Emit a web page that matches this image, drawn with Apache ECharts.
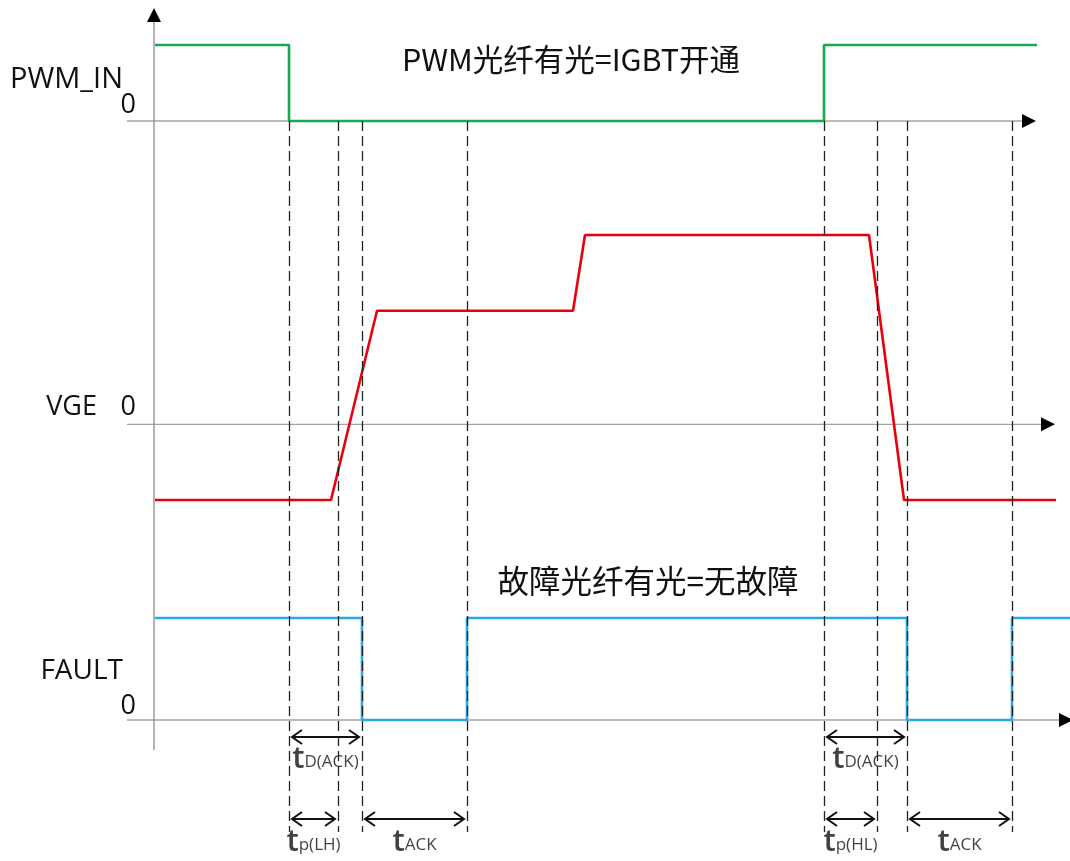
<!DOCTYPE html>
<html>
<head>
<meta charset="utf-8">
<title>PWM_IN / VGE / FAULT timing</title>
<script src="https://cdn.jsdelivr.net/npm/echarts@6/dist/echarts.min.js"></script>
<style>
  html, body { margin: 0; padding: 0; background: #fff; }
  #chart { width: 1070px; height: 861px; }
</style>
</head>
<body>
<div id="chart"></div>
<script>
// time runs from the vertical axis (t = 0), arbitrary units
const pwmTimes = [1, 135, 135, 670, 670, 883];
const pwmLevels = [1, 1, 0, 0, 1, 1];

const vgeTimes = [1, 177, 223, 419, 431, 715, 750, 902];
const vgeLevels = [-6, -6, 9, 9, 15, 15, -6, -6];

const faultTimes = [1, 208, 208, 313, 313, 753, 753, 858, 858, 916];
const faultLevels = [1, 1, 0, 0, 1, 1, 0, 0, 1, 1];

// dashed event markers
const markerTimes = [135, 184, 208, 313, 670, 723, 753, 858];

// timing spans
const spanStart = [135, 135, 208, 670, 670, 753];
const spanEnd = [208, 184, 313, 753, 723, 858];
const spanRow = [0, 1, 1, 0, 1, 1];
const spanSub = ['D(ACK)', 'p(LH)', 'ACK', 'D(ACK)', 'p(HL)', 'ACK'];

const signalNames = ['PWM_IN', 'VGE', 'FAULT'];
const signalColors = ['#17a94f', '#e8000d', '#27aae1'];

// layout of the overlay grid (pixel rows)
const xMin = -27;
const xMax = 916;
const axisEnds = [875, 894, 912];
const markerTop = 121;
const markerBottom = 832;
const arrowRows = [737, 819];
const labelRows = [760, 843];
const yAxisBottom = 750;
const yAxisArrow = 15;

const chart = echarts.init(document.getElementById('chart'));

function zip(xs, ys) {
  return xs.map((x, i) => [x, ys[i]]);
}

function baseline(index) {
  return {
    type: 'line',
    xAxisIndex: index,
    yAxisIndex: index,
    silent: true,
    clip: false,
    showSymbol: true,
    lineStyle: { color: '#a3a3a3', width: 1.3 },
    itemStyle: { color: '#000' },
    z: 1,
    data: [
      { value: [xMin, 0], symbol: 'none' },
      { value: [axisEnds[index], 0], symbol: 'triangle', symbolSize: 14, symbolRotate: -90 }
    ]
  };
}

function signal(index, data) {
  return {
    type: 'line',
    name: signalNames[index],
    xAxisIndex: index,
    yAxisIndex: index,
    silent: true,
    clip: false,
    showSymbol: false,
    lineStyle: { color: signalColors[index], width: 2.6 },
    z: 2,
    data: data
  };
}

function spanArrows() {
  const out = [];
  const head = 10;
  const half = 7;
  spanStart.forEach((s, i) => {
    const y = arrowRows[spanRow[i]];
    const a = s + 3;
    const b = spanEnd[i] - 3;
    out.push({ coords: [[a, y], [b, y]] });
    out.push({ coords: [[a + head, y - half], [a, y], [a + head, y + half]] });
    out.push({ coords: [[b - head, y - half], [b, y], [b - head, y + half]] });
  });
  return out;
}

function spanLabels() {
  return spanStart.map((s, i) => ({
    value: [(s + spanEnd[i]) / 2, labelRows[spanRow[i]]],
    sub: spanSub[i]
  }));
}

const latin = '"Open Sans", "Noto Sans", sans-serif';
const cjk = '"Noto Sans CJK SC", "Open Sans", sans-serif';

function text(str, x, y, align, size, family) {
  return {
    type: 'text',
    x: x,
    y: y,
    style: {
      text: str,
      fill: '#111',
      font: size + 'px ' + (family || latin),
      align: align,
      verticalAlign: 'middle'
    }
  };
}

const option = {
  animation: false,
  grid: [
    { left: 127, top: 45, width: 943, height: 76 },
    { left: 127, top: 235, width: 943, height: 265 },
    { left: 127, top: 618, width: 943, height: 102 },
    { left: 127, top: 0, width: 943, height: 861 }
  ],
  xAxis: [0, 1, 2, 3].map(i => ({
    type: 'value', gridIndex: i, min: xMin, max: xMax, show: false
  })),
  yAxis: [
    { type: 'value', gridIndex: 0, min: 0, max: 1, show: false },
    { type: 'value', gridIndex: 1, min: -6, max: 15, show: false },
    { type: 'value', gridIndex: 2, min: 0, max: 1, show: false },
    { type: 'value', gridIndex: 3, min: 0, max: 861, inverse: true, show: false }
  ],
  graphic: [
    text('PWM_IN', 123, 80, 'right', 29),
    text('0', 136, 105, 'right', 27),
    text('VGE', 97, 407, 'right', 27),
    text('0', 136, 407, 'right', 27),
    text('FAULT', 123, 671, 'right', 28),
    text('0', 136, 706, 'right', 27),
    text('PWM光纤有光=IGBT开通', 571, 59, 'center', 30.5, cjk),
    text('故障光纤有光=无故障', 648, 581, 'center', 31.5, cjk)
  ],
  series: [
    baseline(0),
    baseline(1),
    baseline(2),
    signal(0, zip(pwmTimes, pwmLevels)),
    signal(1, zip(vgeTimes, vgeLevels)),
    signal(2, zip(faultTimes, faultLevels)),
    {
      // vertical axis
      type: 'line',
      xAxisIndex: 3,
      yAxisIndex: 3,
      silent: true,
      clip: false,
      lineStyle: { color: '#8c8c8c', width: 1.3 },
      itemStyle: { color: '#000' },
      z: 1,
      data: [
        { value: [0, yAxisBottom], symbol: 'none' },
        { value: [0, yAxisArrow], symbol: 'triangle', symbolSize: 14 }
      ]
    },
    {
      type: 'lines',
      coordinateSystem: 'cartesian2d',
      xAxisIndex: 3,
      yAxisIndex: 3,
      silent: true,
      lineStyle: { color: '#222', width: 1.3, type: [10, 5], opacity: 1 },
      z: 4,
      data: markerTimes.map(t => ({ coords: [[t, markerTop], [t, markerBottom]] }))
    },
    {
      type: 'lines',
      coordinateSystem: 'cartesian2d',
      polyline: true,
      xAxisIndex: 3,
      yAxisIndex: 3,
      silent: true,
      lineStyle: { color: '#111', width: 2, opacity: 1 },
      z: 4,
      data: spanArrows()
    },
    {
      type: 'scatter',
      xAxisIndex: 3,
      yAxisIndex: 3,
      silent: true,
      symbolSize: 0,
      z: 4,
      label: {
        show: true,
        position: 'inside',
        color: '#111',
        formatter: p => '{t|t}{s|' + p.data.sub + '}',
        rich: {
          t: { fontSize: 31, fontWeight: 600, fontFamily: latin, lineHeight: 30, verticalAlign: 'bottom', color: '#111' },
          s: { fontSize: 17, fontFamily: latin, lineHeight: 27, padding: [0, 0, 4, 0], verticalAlign: 'bottom', color: '#111' }
        }
      },
      data: spanLabels()
    }
  ]
};

chart.setOption(option);
</script>
</body>
</html>
